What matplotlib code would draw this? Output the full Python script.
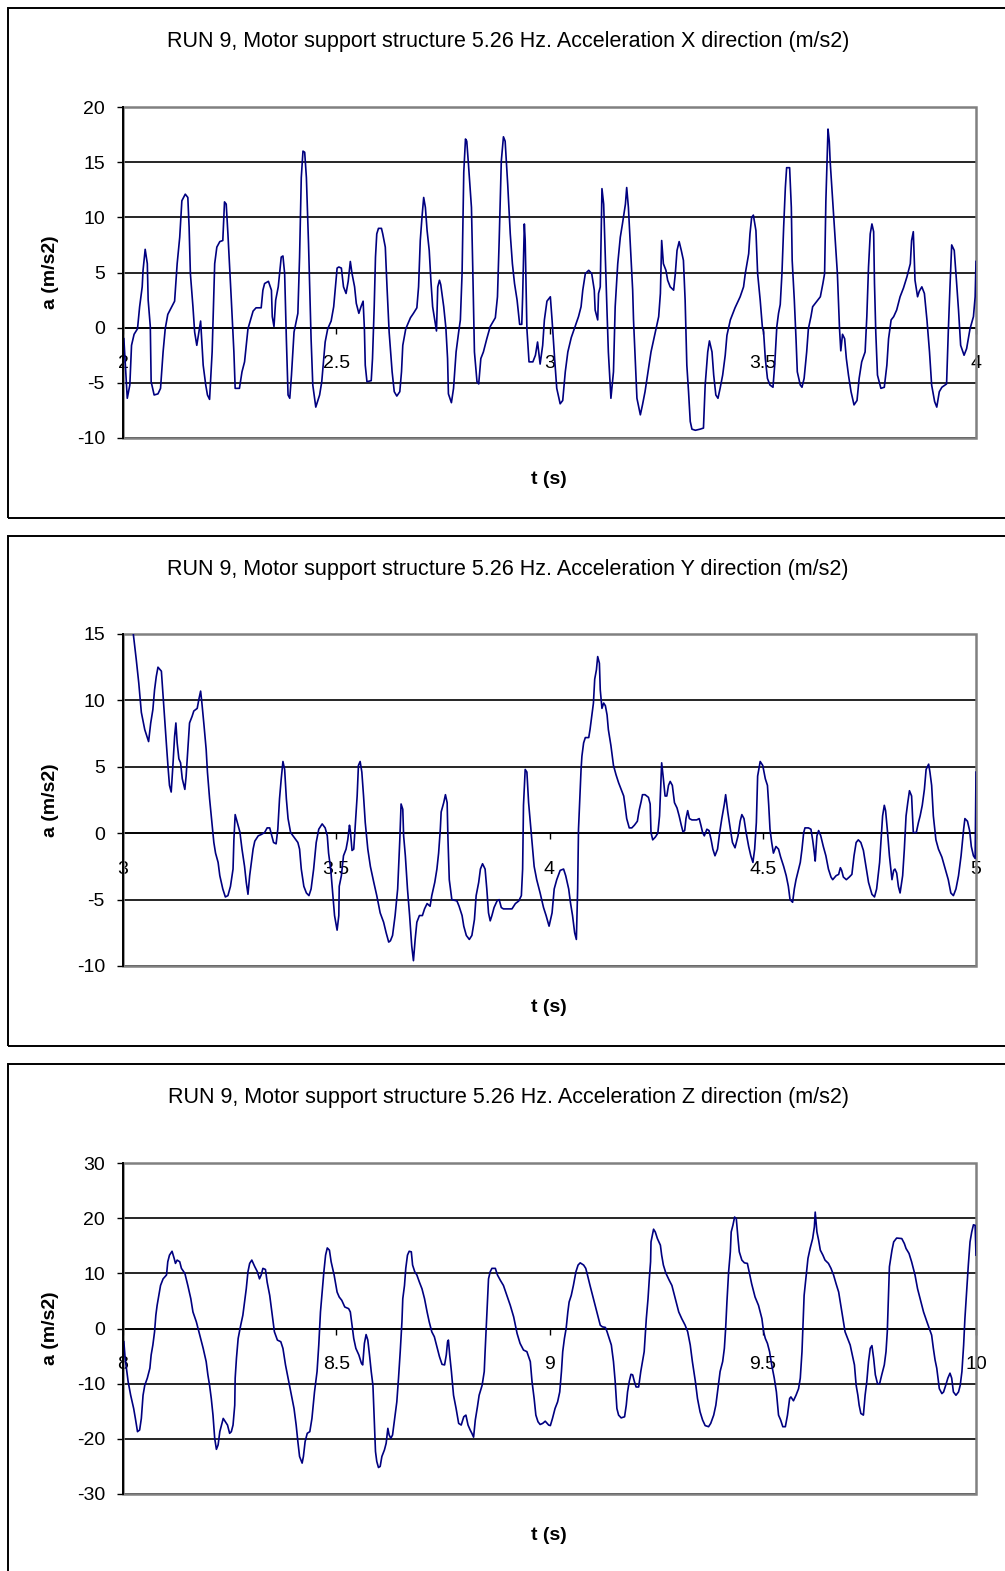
import matplotlib
matplotlib.use('Agg')
import matplotlib.pyplot as plt
from matplotlib.patches import Rectangle

plt.rcParams['font.family'] = ['Liberation Sans', 'DejaVu Sans']
plt.rcParams['axes.unicode_minus'] = False

TITLE = "RUN 9, Motor support structure 5.26 Hz. Acceleration {} direction (m/s2)"

# ---- X direction (t 2..4 s) ----
t_x = [
    2.002, 2.010, 2.016, 2.020, 2.026, 2.034, 2.039, 2.045, 2.047, 2.052,
    2.057, 2.059, 2.064, 2.066, 2.073, 2.082, 2.088, 2.094, 2.099, 2.105,
    2.121, 2.127, 2.133, 2.138, 2.146, 2.152, 2.155, 2.158, 2.164, 2.168,
    2.173, 2.178, 2.182, 2.184, 2.188, 2.194, 2.198, 2.203, 2.209, 2.215,
    2.220, 2.227, 2.234, 2.238, 2.242, 2.246, 2.254, 2.260, 2.263, 2.273,
    2.279, 2.285, 2.293, 2.305, 2.312, 2.324, 2.328, 2.332, 2.341, 2.348,
    2.350, 2.354, 2.358, 2.364, 2.368, 2.371, 2.375, 2.379, 2.383, 2.387,
    2.391, 2.395, 2.401, 2.410, 2.414, 2.418, 2.422, 2.426, 2.430, 2.435,
    2.441, 2.445, 2.452, 2.461, 2.466, 2.474, 2.480, 2.488, 2.494, 2.502,
    2.506, 2.512, 2.517, 2.523, 2.528, 2.533, 2.537, 2.543, 2.547, 2.553,
    2.558, 2.563, 2.566, 2.568, 2.572, 2.582, 2.585, 2.589, 2.592, 2.595,
    2.599, 2.606, 2.609, 2.615, 2.619, 2.624, 2.631, 2.636, 2.642, 2.649,
    2.653, 2.656, 2.663, 2.674, 2.681, 2.689, 2.693, 2.697, 2.701, 2.705,
    2.709, 2.713, 2.718, 2.722, 2.726, 2.731, 2.735, 2.738, 2.742, 2.745,
    2.752, 2.757, 2.761, 2.763, 2.770, 2.775, 2.781, 2.787, 2.791, 2.795,
    2.799, 2.803, 2.806, 2.810, 2.817, 2.820, 2.824, 2.830, 2.834, 2.839,
    2.845, 2.853, 2.861, 2.873, 2.878, 2.882, 2.887, 2.892, 2.896, 2.902,
    2.908, 2.913, 2.918, 2.924, 2.930, 2.935, 2.937, 2.941, 2.943, 2.947,
    2.952, 2.961, 2.967, 2.972, 2.978, 2.984, 2.988, 2.994,
    3.002, 3.006, 3.012, 3.017, 3.025, 3.031, 3.037, 3.043, 3.051, 3.060,
    3.068, 3.074, 3.078, 3.084, 3.092, 3.099, 3.105, 3.107, 3.113, 3.115,
    3.119, 3.121, 3.123, 3.127, 3.131, 3.135, 3.138, 3.144, 3.150, 3.154,
    3.160, 3.166, 3.171, 3.178, 3.181, 3.185, 3.189, 3.195, 3.197, 3.201,
    3.205, 3.213, 3.218, 3.224, 3.231, 3.238, 3.248, 3.256, 3.260, 3.262,
    3.263, 3.267, 3.273, 3.277, 3.283, 3.291, 3.295, 3.299, 3.304, 3.309,
    3.314, 3.318, 3.322, 3.326, 3.330, 3.334, 3.342, 3.353, 3.361, 3.365,
    3.371, 3.375, 3.381, 3.385, 3.390, 3.395, 3.400, 3.406, 3.412, 3.416,
    3.424, 3.435, 3.447, 3.455, 3.459, 3.467, 3.470, 3.474, 3.478, 3.484,
    3.488, 3.494, 3.499,
    3.502, 3.506, 3.511, 3.517, 3.524, 3.528, 3.533, 3.537, 3.541, 3.545,
    3.549, 3.553, 3.556, 3.563, 3.567, 3.569, 3.574, 3.578, 3.581, 3.588,
    3.592, 3.597, 3.603, 3.607, 3.613, 3.617, 3.627, 3.635, 3.641, 3.645,
    3.648, 3.653, 3.656, 3.658, 3.664, 3.670, 3.675, 3.680, 3.683, 3.687,
    3.692, 3.696, 3.701, 3.707, 3.714, 3.721, 3.726, 3.732, 3.740, 3.744,
    3.748, 3.752, 3.756, 3.760, 3.762, 3.765, 3.769, 3.777, 3.785, 3.791,
    3.795, 3.801, 3.807, 3.814, 3.822, 3.830, 3.838, 3.846, 3.849, 3.853,
    3.857, 3.863, 3.867, 3.873, 3.879, 3.885, 3.891, 3.896, 3.903, 3.908,
    3.914, 3.920, 3.931, 3.935, 3.939, 3.943, 3.949, 3.953, 3.959, 3.964,
    3.972, 3.978, 3.986, 3.994, 3.998, 4.000,
]
acc_x = [
    -1.0, -6.4, -5.2, -1.6, -0.6, -0.1, 1.9, 3.7, 5.2, 7.1,
    5.8, 2.5, 0.1, -4.9, -6.1, -6.0, -5.5, -2.2, -0.1, 1.2,
    2.4, 5.8, 8.2, 11.5, 12.1, 11.8, 9.1, 4.9, 1.9, -0.4,
    -1.6, -0.4, 0.6, -0.7, -3.4, -5.2, -6.1, -6.5, -2.2, 5.8,
    7.3, 7.8, 7.9, 11.4, 11.2, 8.5, 2.5, -2.2, -5.5, -5.5,
    -4.0, -3.1, -0.1, 1.5, 1.8, 1.8, 3.4, 4.0, 4.2, 3.4,
    1.0, 0.1, 2.5, 3.7, 5.2, 6.4, 6.5, 4.9, -1.0, -6.1,
    -6.4, -4.3, -0.4, 1.3, 6.4, 13.6, 16.0, 15.9, 13.6, 7.6,
    -1.0, -5.2, -7.2, -6.1, -4.9, -1.3, -0.1, 0.6, 1.9, 5.4,
    5.5, 5.4, 3.7, 3.1, 4.2, 6.0, 4.9, 3.7, 2.2, 1.3,
    1.9, 2.4, -0.1, -3.4, -4.9, -4.8, -2.8, 1.9, 6.4, 8.5,
    9.0, 9.0, 8.5, 7.3, 3.7, -0.4, -4.0, -5.8, -6.2, -5.8,
    -4.0, -1.6, -0.1, 0.9, 1.3, 1.8, 3.7, 7.9, 10.0, 11.8,
    10.9, 8.8, 7.0, 4.2, 1.9, 0.7, -0.3, 3.7, 4.3, 3.9,
    1.9, 0.0, -2.8, -6.0, -6.8, -5.5, -2.2, -0.4, 0.7, 4.9,
    14.1, 17.1, 16.9, 14.8, 10.9, 5.5, -2.2, -4.9, -5.1, -2.8,
    -2.2, -1.0, 0.1, 0.9, 2.8, 7.9, 15.1, 17.3, 16.9, 13.0,
    8.5, 5.8, 4.0, 2.5, 0.3, 0.3, 2.8, 9.4, 7.9, -0.1,
    -3.1, -3.1, -2.5, -1.3, -3.3, -1.6, 0.7, 2.4,
    2.8, 0.7, -2.8, -5.5, -6.9, -6.6, -4.0, -2.2, -0.9, 0.1,
    1.0, 1.9, 3.4, 4.9, 5.2, 4.9, 3.4, 1.6, 0.7, 3.1,
    3.7, 7.9, 12.6, 11.2, 6.1, 1.3, -2.2, -6.4, -4.0, 1.9,
    5.8, 8.2, 9.4, 11.2, 12.7, 10.9, 7.9, 3.4, 0.7, -2.8,
    -6.4, -7.9, -7.0, -5.8, -4.0, -2.2, -0.4, 1.0, 3.1, 6.1,
    7.9, 5.8, 5.2, 4.3, 3.7, 3.4, 4.9, 7.0, 7.8, 7.0,
    6.1, 2.5, -3.4, -5.8, -8.5, -9.2, -9.3, -9.2, -9.1, -5.2,
    -2.2, -1.2, -2.2, -4.3, -6.1, -6.4, -5.5, -4.3, -2.5, -0.7,
    0.7, 1.8, 2.8, 3.7, 4.9, 6.7, 8.5, 10.0, 10.2, 8.8,
    4.9, 2.5, 0.1,
    -0.4, -2.8, -4.6, -5.2, -5.4, -3.4, 0.1, 1.3, 2.1, 4.9,
    9.1, 12.7, 14.5, 14.5, 10.9, 6.1, 2.5, -1.0, -4.0, -5.2,
    -5.4, -4.6, -2.2, -0.1, 1.0, 1.9, 2.4, 2.8, 4.0, 4.9,
    11.5, 18.0, 16.9, 15.1, 11.5, 7.9, 4.9, -0.1, -2.1, -0.6,
    -1.0, -2.8, -4.3, -5.8, -7.0, -6.6, -4.6, -3.1, -2.2, 1.0,
    5.5, 8.5, 9.4, 8.7, 4.0, -0.4, -4.3, -5.5, -5.4, -3.4,
    -1.0, 0.7, 1.0, 1.6, 2.8, 3.6, 4.6, 5.8, 7.9, 8.7,
    4.3, 2.8, 3.3, 3.7, 3.1, 0.7, -2.2, -5.2, -6.7, -7.2,
    -5.8, -5.4, -5.1, -0.4, 3.7, 7.5, 7.0, 4.9, 1.6, -1.6,
    -2.5, -1.9, -0.1, 1.0, 2.8, 6.0,
]

# ---- Y direction (t 3..5 s) ----
t_y = [
    3.022, 3.031, 3.037, 3.043, 3.051, 3.057, 3.060, 3.065, 3.070, 3.074,
    3.078, 3.082, 3.090, 3.094, 3.098, 3.102, 3.106, 3.109, 3.113, 3.117,
    3.121, 3.124, 3.127, 3.131, 3.135, 3.139, 3.145, 3.148, 3.152, 3.156,
    3.162, 3.166, 3.174, 3.178, 3.182, 3.185, 3.190, 3.195, 3.198, 3.203,
    3.209, 3.213, 3.217, 3.223, 3.227, 3.234, 3.240, 3.246, 3.252, 3.258,
    3.260, 3.263, 3.268, 3.274, 3.279, 3.285, 3.289, 3.293, 3.297, 3.301,
    3.305, 3.309, 3.317, 3.324, 3.332, 3.338, 3.344, 3.349, 3.353, 3.359,
    3.363, 3.367, 3.371, 3.375, 3.379, 3.383, 3.387, 3.393, 3.401, 3.410,
    3.414, 3.418, 3.424, 3.430, 3.436, 3.441, 3.447, 3.453, 3.459, 3.467,
    3.474, 3.479, 3.482, 3.487, 3.492, 3.496, 3.502,
    3.506, 3.507, 3.512, 3.517, 3.523, 3.527, 3.531, 3.533, 3.537, 3.541,
    3.545, 3.549, 3.552, 3.556, 3.560, 3.564, 3.568, 3.574, 3.580, 3.588,
    3.595, 3.603, 3.611, 3.617, 3.623, 3.627, 3.632, 3.638, 3.644, 3.649,
    3.652, 3.656, 3.658, 3.662, 3.667, 3.672, 3.677, 3.681, 3.685, 3.689,
    3.695, 3.702, 3.707, 3.713, 3.720, 3.724, 3.731, 3.736, 3.740, 3.744,
    3.746, 3.752, 3.756, 3.760, 3.762, 3.765, 3.771, 3.783, 3.788, 3.795,
    3.799, 3.805, 3.812, 3.818, 3.824, 3.828, 3.834, 3.838, 3.843, 3.849,
    3.853, 3.857, 3.861, 3.865, 3.870, 3.877, 3.882, 3.887, 3.892, 3.903,
    3.912, 3.920, 3.928, 3.934, 3.937, 3.939, 3.943, 3.947, 3.951, 3.955,
    3.959, 3.964, 3.970, 3.978, 3.986, 3.992, 3.999,
    4.006, 4.011, 4.017, 4.025, 4.033, 4.038, 4.045, 4.049, 4.054, 4.059,
    4.063, 4.066, 4.068, 4.070, 4.074, 4.076, 4.080, 4.084, 4.092, 4.095,
    4.099, 4.103, 4.106, 4.110, 4.113, 4.117, 4.119, 4.123, 4.127, 4.131,
    4.135, 4.138, 4.144, 4.150, 4.156, 4.162, 4.168, 4.174, 4.177, 4.181,
    4.187, 4.193, 4.199, 4.206, 4.210, 4.215, 4.218, 4.224, 4.232, 4.236,
    4.238, 4.242, 4.248, 4.254, 4.258, 4.261, 4.263, 4.267, 4.271, 4.275,
    4.279, 4.283, 4.288, 4.293, 4.299, 4.304, 4.309, 4.313, 4.317, 4.320,
    4.324, 4.328, 4.334, 4.345, 4.351, 4.355, 4.359, 4.363, 4.369, 4.374,
    4.379, 4.383, 4.388, 4.394, 4.399, 4.404, 4.410, 4.413, 4.418, 4.424,
    4.429, 4.435, 4.442, 4.447, 4.451, 4.456, 4.461, 4.467, 4.472, 4.477,
    4.481, 4.485, 4.488, 4.494, 4.500,
    4.506, 4.511, 4.514, 4.517, 4.521, 4.525, 4.531, 4.537, 4.542, 4.549,
    4.555, 4.560, 4.564, 4.570, 4.574, 4.578, 4.584, 4.588, 4.592, 4.596,
    4.599, 4.607, 4.613, 4.617, 4.621, 4.623, 4.627, 4.631, 4.636, 4.642,
    4.648, 4.654, 4.660, 4.664, 4.672, 4.678, 4.682, 4.685, 4.689, 4.696,
    4.703, 4.709, 4.714, 4.719, 4.724, 4.730, 4.736, 4.742, 4.748, 4.756,
    4.762, 4.767, 4.774, 4.778, 4.781, 4.785, 4.788, 4.792, 4.797, 4.803,
    4.807, 4.810, 4.814, 4.818, 4.822, 4.828, 4.832, 4.836, 4.840, 4.844,
    4.849, 4.853, 4.860, 4.865, 4.869, 4.874, 4.879, 4.883, 4.889, 4.892,
    4.896, 4.900, 4.906, 4.912, 4.920, 4.928, 4.935, 4.941, 4.947, 4.953,
    4.959, 4.965, 4.971, 4.974, 4.980, 4.985, 4.989, 4.994, 4.998, 5.000,
]
acc_y = [
    15.6, 13.1, 11.3, 9.1, 7.8, 7.2, 6.9, 8.3, 9.3, 10.8,
    11.8, 12.5, 12.2, 10.3, 8.3, 6.6, 4.8, 3.6, 3.1, 5.1,
    7.3, 8.3, 6.8, 5.6, 5.3, 4.1, 3.3, 4.3, 6.3, 8.3,
    8.8, 9.2, 9.4, 10.1, 10.7, 9.8, 8.1, 6.3, 4.6, 2.6,
    0.6, -0.7, -1.5, -2.2, -3.2, -4.2, -4.8, -4.7, -4.0, -2.7,
    -0.5, 1.4, 0.8, 0.1, -1.2, -2.5, -3.7, -4.6, -3.2, -2.2,
    -1.2, -0.6, -0.2, -0.1, 0.05, 0.4, 0.4, -0.2, -0.7, -0.8,
    0.3, 2.6, 4.1, 5.4, 4.8, 2.6, 1.1, 0.05, -0.3, -0.7,
    -1.2, -2.7, -4.0, -4.5, -4.7, -4.2, -2.7, -0.7, 0.3, 0.7,
    0.4, -0.2, -1.5, -2.7, -4.7, -6.2, -7.3,
    -6.2, -4.0, -3.2, -1.7, -1.2, -0.5, 0.6, 0.2, -1.3, -1.2,
    0.8, 2.8, 5.1, 5.4, 4.6, 2.8, 0.8, -1.2, -2.5, -3.7,
    -4.7, -6.0, -6.7, -7.5, -8.2, -8.1, -7.7, -6.2, -4.2, -0.5,
    2.2, 1.8, -0.2, -1.7, -4.2, -6.2, -8.5, -9.6, -8.0, -6.7,
    -6.2, -6.2, -5.7, -5.3, -5.5, -4.7, -3.7, -2.7, -1.5, 0.3,
    1.6, 2.3, 2.9, 2.3, -0.5, -3.5, -5.0, -5.1, -5.5, -6.2,
    -7.0, -7.7, -8.0, -7.7, -6.5, -4.7, -3.7, -2.7, -2.3, -2.7,
    -4.2, -6.0, -6.6, -6.2, -5.6, -5.1, -5.0, -5.6, -5.7, -5.7,
    -5.7, -5.3, -5.1, -4.7, -2.7, 2.1, 4.8, 4.6, 2.3, 0.8,
    -0.7, -2.5, -3.5, -4.5, -5.6, -6.2, -7.0,
    -6.0, -4.2, -3.5, -2.8, -2.7, -3.2, -4.2, -5.2, -6.2, -7.5,
    -8.0, -4.2, 0.3, 1.8, 4.8, 5.8, 6.8, 7.2, 7.2, 7.8,
    8.8, 9.8, 11.6, 12.3, 13.3, 12.8, 10.8, 9.4, 9.8, 9.6,
    8.9, 7.8, 6.6, 5.1, 4.4, 3.8, 3.3, 2.8, 2.1, 1.1,
    0.4, 0.4, 0.6, 0.9, 1.7, 2.4, 2.9, 2.9, 2.7, 2.2,
    0.05, -0.5, -0.3, 0.0, 1.3, 3.8, 5.3, 4.1, 2.8, 2.8,
    3.6, 3.9, 3.6, 2.3, 1.9, 1.3, 0.6, 0.1, 0.2, 1.1,
    1.7, 1.1, 1.0, 1.0, 1.1, 0.6, 0.05, -0.2, 0.3, 0.2,
    -0.5, -1.2, -1.7, -1.2, 0.05, 1.1, 2.2, 2.9, 1.6, 0.3,
    -0.7, -1.1, -0.2, 0.9, 1.4, 1.1, 0.05, -1.0, -1.7, -2.2,
    -1.2, 0.8, 4.3, 5.4, 5.1,
    4.1, 3.6, 2.1, 0.3, -0.7, -1.5, -1.0, -1.2, -1.8, -2.5,
    -3.2, -4.0, -5.0, -5.2, -4.2, -3.5, -2.7, -2.2, -1.2, 0.05,
    0.4, 0.4, 0.3, -0.5, -1.5, -2.1, -0.2, 0.2, -0.2, -1.0,
    -1.7, -2.7, -3.3, -3.5, -3.2, -3.1, -2.6, -2.8, -3.3, -3.5,
    -3.3, -3.1, -1.7, -0.7, -0.5, -0.7, -1.3, -2.5, -3.7, -4.6,
    -4.8, -4.2, -2.2, -0.2, 1.3, 2.1, 1.7, 0.3, -1.7, -3.5,
    -2.8, -2.7, -3.0, -4.0, -4.5, -3.2, -1.2, 1.3, 2.3, 3.2,
    2.8, 0.05, 0.05, 0.8, 1.3, 2.1, 3.3, 4.8, 5.2, 4.6,
    3.6, 1.3, -0.5, -1.2, -1.8, -2.7, -3.5, -4.5, -4.7, -4.2,
    -3.2, -1.7, 0.3, 1.1, 0.9, 0.2, -1.0, -1.7, -1.9, 4.6,
]

# ---- Z direction (t 8..10 s) ----
t_z = [
    8.002, 8.005, 8.012, 8.018, 8.025, 8.029, 8.034, 8.039, 8.043, 8.047,
    8.051, 8.057, 8.063, 8.066, 8.070, 8.074, 8.077, 8.080, 8.084, 8.088,
    8.094, 8.102, 8.105, 8.109, 8.115, 8.120, 8.123, 8.127, 8.133, 8.137,
    8.145, 8.152, 8.159, 8.164, 8.172, 8.180, 8.188, 8.195, 8.199, 8.203,
    8.207, 8.211, 8.215, 8.219, 8.223, 8.227, 8.230, 8.235, 8.240, 8.245,
    8.250, 8.254, 8.258, 8.262, 8.263, 8.266, 8.270, 8.276, 8.281, 8.285,
    8.289, 8.293, 8.297, 8.302, 8.309, 8.315, 8.320, 8.324, 8.328, 8.334,
    8.338, 8.344, 8.349, 8.355, 8.362, 8.370, 8.375, 8.381, 8.387, 8.393,
    8.401, 8.406, 8.410, 8.414, 8.420, 8.423, 8.427, 8.432, 8.438, 8.443,
    8.449, 8.455, 8.459, 8.463, 8.467, 8.471, 8.475, 8.479, 8.484, 8.488,
    8.495, 8.502,
    8.507, 8.513, 8.520, 8.529, 8.533, 8.537, 8.541, 8.546, 8.553, 8.559,
    8.562, 8.566, 8.570, 8.574, 8.578, 8.582, 8.586, 8.589, 8.592, 8.595,
    8.599, 8.603, 8.607, 8.613, 8.617, 8.621, 8.624, 8.628, 8.632, 8.637,
    8.642, 8.646, 8.650, 8.654, 8.656, 8.660, 8.663, 8.667, 8.671, 8.676,
    8.679, 8.684, 8.689, 8.695, 8.701, 8.707, 8.713, 8.718, 8.724, 8.730,
    8.736, 8.742, 8.748, 8.754, 8.758, 8.761, 8.763, 8.766, 8.770, 8.775,
    8.781, 8.787, 8.793, 8.799, 8.804, 8.809, 8.814, 8.818, 8.822, 8.826,
    8.831, 8.835, 8.842, 8.847, 8.849, 8.852, 8.855, 8.857, 8.861, 8.865,
    8.873, 8.878, 8.885, 8.892, 8.900, 8.908, 8.916, 8.924, 8.931, 8.939,
    8.947, 8.955, 8.959, 8.964, 8.968, 8.973, 8.978, 8.984, 8.990, 8.998,
    9.002, 9.007, 9.013, 9.019, 9.024, 9.028, 9.031, 9.035, 9.039, 9.043,
    9.046, 9.051, 9.056, 9.062, 9.067, 9.072, 9.080, 9.085, 9.089, 9.095,
    9.101, 9.107, 9.113, 9.119, 9.124, 9.131, 9.135, 9.140, 9.145, 9.150,
    9.154, 9.158, 9.162, 9.168, 9.176, 9.180, 9.183, 9.187, 9.191, 9.195,
    9.199, 9.203, 9.209, 9.214, 9.218, 9.222, 9.224, 9.227, 9.231, 9.234,
    9.237, 9.238, 9.242, 9.244, 9.248, 9.253, 9.260, 9.263, 9.267, 9.273,
    9.281, 9.287, 9.295, 9.303, 9.310, 9.318, 9.324, 9.330, 9.335, 9.342,
    9.347, 9.353, 9.359, 9.365, 9.373, 9.378, 9.385, 9.390, 9.395, 9.400,
    9.406, 9.410, 9.413, 9.416, 9.420, 9.424, 9.426, 9.430, 9.434, 9.438,
    9.442, 9.445, 9.451, 9.457, 9.464, 9.468, 9.474, 9.482, 9.490,
    9.498, 9.502, 9.506, 9.511, 9.516, 9.521, 9.527, 9.532, 9.537, 9.542,
    9.547, 9.553, 9.558, 9.563, 9.566, 9.572, 9.578, 9.584, 9.588, 9.592,
    9.594, 9.597, 9.602, 9.606, 9.611, 9.617, 9.621, 9.623, 9.627, 9.631,
    9.635, 9.641, 9.646, 9.654, 9.660, 9.666, 9.672, 9.678, 9.683, 9.688,
    9.693, 9.699, 9.705, 9.710, 9.715, 9.719, 9.723, 9.726, 9.730, 9.736,
    9.740, 9.744, 9.748, 9.752, 9.756, 9.760, 9.764, 9.769, 9.774, 9.779,
    9.785, 9.789, 9.792, 9.795, 9.797, 9.803, 9.807, 9.814, 9.826, 9.832,
    9.836, 9.843, 9.849, 9.857, 9.863, 9.869, 9.877, 9.885, 9.892, 9.896,
    9.900, 9.904, 9.908, 9.914, 9.920, 9.924, 9.929, 9.934, 9.939, 9.943,
    9.947, 9.953, 9.959, 9.963, 9.967, 9.971, 9.974, 9.978, 9.982, 9.986,
    9.990, 9.994, 9.998, 10.000,
]
acc_z = [
    -2.4, -5.4, -9.6, -12.1, -14.5, -16.3, -18.7, -18.4, -16.3, -12.1,
    -10.3, -9.0, -7.2, -4.8, -3.0, -0.6, 2.4, 4.2, 6.0, 7.8,
    9.0, 9.7, 12.1, 13.3, 14.0, 12.7, 11.8, 12.4, 12.1, 10.9,
    10.0, 7.8, 5.4, 3.0, 1.2, -1.2, -3.6, -6.0, -8.4, -10.3,
    -12.7, -15.7, -19.9, -21.9, -21.1, -18.7, -17.8, -16.3, -16.9, -17.5,
    -19.0, -18.7, -17.5, -13.9, -9.0, -5.4, -1.8, 0.6, 2.4, 4.8,
    7.2, 10.3, 11.8, 12.4, 11.2, 10.3, 9.0, 9.7, 10.9, 10.7,
    8.4, 6.0, 3.0, -0.6, -2.1, -2.4, -3.6, -6.6, -9.0, -11.5,
    -14.5, -17.5, -20.5, -23.2, -24.4, -23.2, -20.5, -19.0, -18.7, -16.3,
    -11.5, -7.8, -3.0, 3.0, 6.6, 10.3, 13.3, 14.6, 14.2, 12.1,
    9.7, 6.6,
    5.7, 5.1, 3.9, 3.6, 3.0, 0.6, -1.8, -3.6, -4.8, -6.3,
    -6.6, -2.7, -1.1, -2.1, -4.8, -7.8, -10.3, -16.3, -22.3, -24.1,
    -25.2, -25.0, -23.2, -22.0, -20.8, -18.1, -19.3, -19.9, -19.3, -16.3,
    -13.3, -9.0, -4.2, 1.2, 5.4, 7.8, 10.9, 13.3, 14.0, 13.9,
    11.5, 10.3, 9.7, 8.4, 7.2, 5.4, 3.0, 1.2, -0.6, -1.5,
    -3.3, -5.1, -6.5, -6.6, -4.8, -2.4, -2.1, -4.8, -7.8, -12.1,
    -14.5, -17.2, -17.5, -16.0, -15.7, -17.5, -18.4, -19.0, -19.7, -16.6,
    -14.2, -12.1, -10.3, -7.8, -4.2, 0.6, 5.4, 9.0, 10.3, 10.9,
    10.9, 9.7, 8.7, 7.8, 6.0, 4.2, 2.1, -0.9, -2.7, -3.9,
    -4.2, -6.0, -9.6, -12.7, -15.7, -16.9, -17.4, -17.2, -16.8, -17.5,
    -17.6, -16.3, -14.5, -13.3, -11.5, -7.8, -4.2, -1.8, 0.0, 3.0,
    4.8, 6.0, 7.8, 10.3, 11.5, 11.9, 11.5, 10.9, 9.7, 7.8,
    6.0, 4.2, 2.4, 0.6, 0.3, 0.2, -0.6, -1.8, -3.0, -6.0,
    -9.6, -14.5, -15.7, -16.2, -16.0, -13.9, -11.5, -9.6, -8.3, -8.4,
    -9.6, -10.6, -10.6, -7.8, -6.0, -4.2, -1.8, 1.8, 5.4, 9.0,
    12.1, 15.7, 17.2, 18.0, 17.5, 16.3, 15.1, 13.3, 11.5, 10.0,
    8.7, 7.8, 5.4, 3.0, 1.8, 0.6, -0.6, -3.0, -6.0, -9.6,
    -12.7, -15.1, -16.6, -17.6, -17.8, -17.2, -15.7, -13.9, -10.9, -7.8,
    -6.0, -3.6, 0.0, 4.8, 10.3, 13.9, 17.5, 18.7, 20.2, 19.9,
    16.3, 13.9, 12.4, 11.9, 11.8, 10.3, 8.1, 5.7, 4.2,
    1.8, -0.6, -1.8, -2.7, -4.2, -6.6, -9.0, -11.5, -15.7, -16.6,
    -17.8, -17.8, -15.7, -12.7, -12.4, -13.1, -12.1, -10.9, -9.0, -4.2,
    0.0, 6.0, 9.7, 12.7, 14.5, 16.3, 18.4, 21.1, 17.5, 16.0,
    14.2, 13.3, 12.4, 11.8, 10.9, 9.7, 8.1, 6.6, 4.2, 1.8,
    -0.6, -1.8, -3.0, -4.8, -6.6, -10.3, -12.1, -13.9, -15.4, -15.7,
    -12.1, -9.6, -6.0, -3.6, -3.1, -5.4, -8.4, -10.0, -10.0, -8.4,
    -6.6, -4.2, -0.6, 6.6, 11.2, 14.2, 15.7, 16.4, 16.3, 15.4,
    14.5, 13.6, 12.1, 9.7, 7.2, 5.4, 3.0, 1.2, -0.3, -1.2,
    -3.6, -5.7, -7.2, -10.9, -11.8, -11.5, -10.3, -9.0, -8.1, -9.0,
    -11.5, -12.1, -11.5, -10.3, -7.8, -3.0, 1.8, 6.6, 11.5, 15.7,
    17.5, 18.8, 18.7, 13.3,
]

xticks_x = [2, 2.5, 3, 3.5, 4]
xticks_y = [3, 3.5, 4, 4.5, 5]
xticks_z = [8, 8.5, 9, 9.5, 10]
yticks_x = [-10, -5, 0, 5, 10, 15, 20]
yticks_y = [-10, -5, 0, 5, 10, 15]
yticks_z = [-30, -20, -10, 0, 10, 20, 30]

panels = [
    ('X', t_x, acc_x, xticks_x, yticks_x),
    ('Y', t_y, acc_y, xticks_y, yticks_y),
    ('Z', t_z, acc_z, xticks_z, yticks_z),
]

W, H = 1005, 1571
fig = plt.figure(figsize=(W / 100, H / 100), dpi=100)

# pixel layout of each panel: (box top, box bottom, plot top, plot bottom)
layout = [(8, 518, 107, 438), (536, 1046, 634, 966), (1064, 1575, 1163, 1494)]
plot_left, plot_right = 123, 976
FS = 14

for (d, t, a, xt, yt), (btop, bbot, ptop, pbot) in zip(panels, layout):
    # outer frame
    fig.patches.append(Rectangle((8 / W, 1 - bbot / H), (1010 - 8) / W, (bbot - btop) / H,
                                 transform=fig.transFigure, fill=False,
                                 edgecolor='black', linewidth=1.4))
    ax = fig.add_axes([plot_left / W, 1 - pbot / H,
                       (plot_right - plot_left) / W, (pbot - ptop) / H])
    ax.plot(t, a, color='#000080', linewidth=1.2, zorder=3)
    ax.set_xlim(xt[0], xt[-1])
    ax.set_ylim(yt[0], yt[-1])
    ax.set_xticks(xt)
    ax.set_xticklabels([f'{v:g}' for v in xt])
    ax.set_yticks(yt)
    ax.set_yticklabels([f'{v:g}' for v in yt])
    ax.yaxis.grid(True, color='black', linewidth=1.2)
    ax.set_axisbelow(True)

    for s in ['top', 'right']:
        ax.spines[s].set_visible(False)
    ax.spines['bottom'].set_position(('data', 0))
    ax.spines['bottom'].set_linewidth(1.2)
    ax.spines['left'].set_linewidth(1.4)
    ax.spines['left'].set_zorder(4)
    # grey plot-area border
    ax.add_patch(Rectangle((0, 0), 1, 1, transform=ax.transAxes, fill=False,
                           edgecolor='#808080', linewidth=1.8, zorder=2.6,
                           clip_on=False))

    ax.tick_params(axis='x', direction='out', length=4, width=1, pad=16,
                   labelsize=FS)
    ax.tick_params(axis='y', direction='out', length=4, width=1, pad=9,
                   labelsize=FS)

    fig.text(508 / W, 1 - (btop + 33) / H, TITLE.format(d), ha='center',
             va='center', fontsize=15.5)
    fig.text(549 / W, 1 - (pbot + 42) / H, 't (s)', ha='center', va='center',
             fontsize=FS, fontweight='bold')
    fig.text(50 / W, 1 - (ptop + pbot) / 2 / H, 'a (m/s2)', rotation=90,
             ha='center', va='center', fontsize=FS, fontweight='bold')

fig.savefig('out.png', dpi=100)
